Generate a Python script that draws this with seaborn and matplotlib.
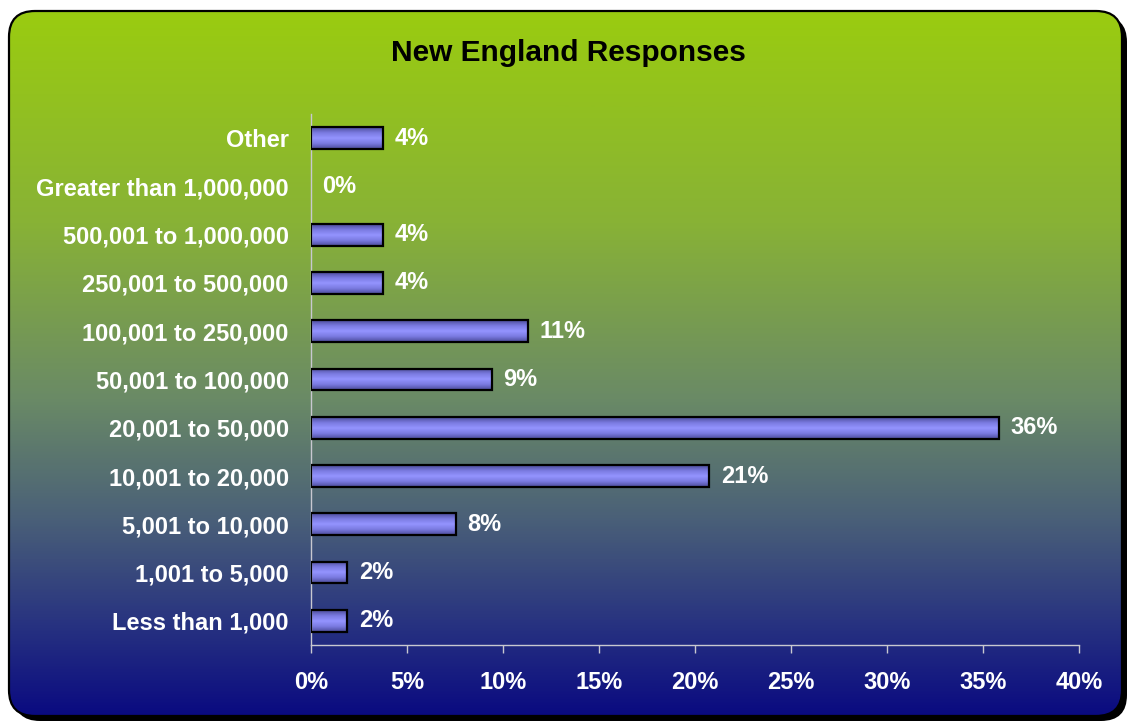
import numpy as np
import pandas as pd
import matplotlib
matplotlib.use("Agg")
import matplotlib.pyplot as plt
import seaborn as sns
from matplotlib.patches import FancyBboxPatch
from matplotlib.colors import LinearSegmentedColormap

# Survey responses by population band (percent of respondents)
categories = [
    "Other",
    "Greater than 1,000,000",
    "500,001 to 1,000,000",
    "250,001 to 500,000",
    "100,001 to 250,000",
    "50,001 to 100,000",
    "20,001 to 50,000",
    "10,001 to 20,000",
    "5,001 to 10,000",
    "1,001 to 5,000",
    "Less than 1,000",
]
shares = [3.77, 0.0, 3.77, 3.77, 11.32, 9.43, 35.85, 20.75, 7.55, 1.89, 1.89]
x_ticks = [0, 5, 10, 15, 20, 25, 30, 35, 40]
x_tick_labels = [f"{t}%" for t in x_ticks]

df = pd.DataFrame({"category": categories, "share": shares})

sns.set_theme(style="white")
plt.rcParams["font.family"] = ["Liberation Sans", "DejaVu Sans"]

LABEL_SIZE = 17

W, H = 1135, 723
fig = plt.figure(figsize=(W / 100, H / 100), dpi=100)
fig.patch.set_facecolor("white")

# Rounded panel with vertical green-to-navy gradient and drop shadow
bg = fig.add_axes([0, 0, 1, 1])
bg.set_axis_off()
bg.set_xlim(0, W)
bg.set_ylim(H, 0)

px0, py0, pw, ph, rad = 9, 11, 1113, 705, 26
shadow = FancyBboxPatch((px0 + 5, py0 + 5), pw, ph,
                        boxstyle=f"round,pad=0,rounding_size={rad}",
                        fc="black", ec="none", zorder=1)
bg.add_patch(shadow)
panel = FancyBboxPatch((px0, py0), pw, ph,
                       boxstyle=f"round,pad=0,rounding_size={rad}",
                       fc="none", ec="none", zorder=2)
bg.add_patch(panel)
bg_cmap = LinearSegmentedColormap.from_list(
    "panel",
    [(0.0, "#9acc10"), (0.30, "#88b236"), (0.55, "#6a8a66"),
     (0.72, "#4a6078"), (0.86, "#2a3680"), (1.0, "#0a0a80")])
grad = np.linspace(0, 1, 512).reshape(-1, 1)
im = bg.imshow(grad, cmap=bg_cmap, aspect="auto",
               extent=(px0, px0 + pw, py0 + ph, py0), zorder=2)
im.set_clip_path(panel)
outline = FancyBboxPatch((px0, py0), pw, ph,
                         boxstyle=f"round,pad=0,rounding_size={rad}",
                         fc="none", ec="black", lw=1.6, zorder=3)
bg.add_patch(outline)

fig.text(568 / W, 1 - 53 / H, "New England Responses", ha="center", va="center",
         fontsize=21.5, fontweight="bold", color="black")

# Bar chart
ax = fig.add_axes([311 / W, 1 - 645 / H, 768 / W, (645 - 114) / H])
ax.set_facecolor("none")
sns.barplot(data=df, x="share", y="category", orient="h", ax=ax,
            width=0.45, color="#9090ff", edgecolor="black", linewidth=1.6,
            zorder=3)

bar_cmap = LinearSegmentedColormap.from_list(
    "bar", [(0.0, "#4c4c9a"), (0.25, "#7a7ae0"), (0.5, "#9494ff"),
            (0.75, "#7a7ae0"), (1.0, "#4c4c9a")])
bar_grad = np.linspace(0, 1, 64).reshape(-1, 1)
for patch in ax.patches:
    x0, y0 = patch.get_x(), patch.get_y()
    w, h = patch.get_width(), patch.get_height()
    patch.set_facecolor("none")
    if w <= 0:
        patch.set_linewidth(0)
        continue
    ax.imshow(bar_grad, cmap=bar_cmap, aspect="auto",
              extent=(x0, x0 + w, y0 + h, y0), zorder=2)

ax.set_xlim(0, 40)
ax.set_ylim(len(categories) - 0.5, -0.5)

for i, v in enumerate(shares):
    ax.text(v + 0.6, i, f"{v:.0f}%", va="center", ha="left",
            fontsize=LABEL_SIZE, fontweight="bold", color="white", zorder=4)

ax.set_xticks(x_ticks)
ax.set_xticklabels(x_tick_labels)
ax.set_xlabel("")
ax.set_ylabel("")
ax.tick_params(axis="x", direction="out", length=6, width=1, color="#c8c8d0",
               pad=13, labelsize=LABEL_SIZE, labelcolor="white", bottom=True)
ax.tick_params(axis="y", length=0, pad=16, labelsize=LABEL_SIZE, labelcolor="white")
for lab in ax.get_xticklabels() + ax.get_yticklabels():
    lab.set_fontweight("bold")

for side in ["top", "right"]:
    ax.spines[side].set_visible(False)
for side in ["left", "bottom"]:
    ax.spines[side].set_color("#c8c8d0")
    ax.spines[side].set_linewidth(1.0)

fig.savefig("out.png", dpi=100)
